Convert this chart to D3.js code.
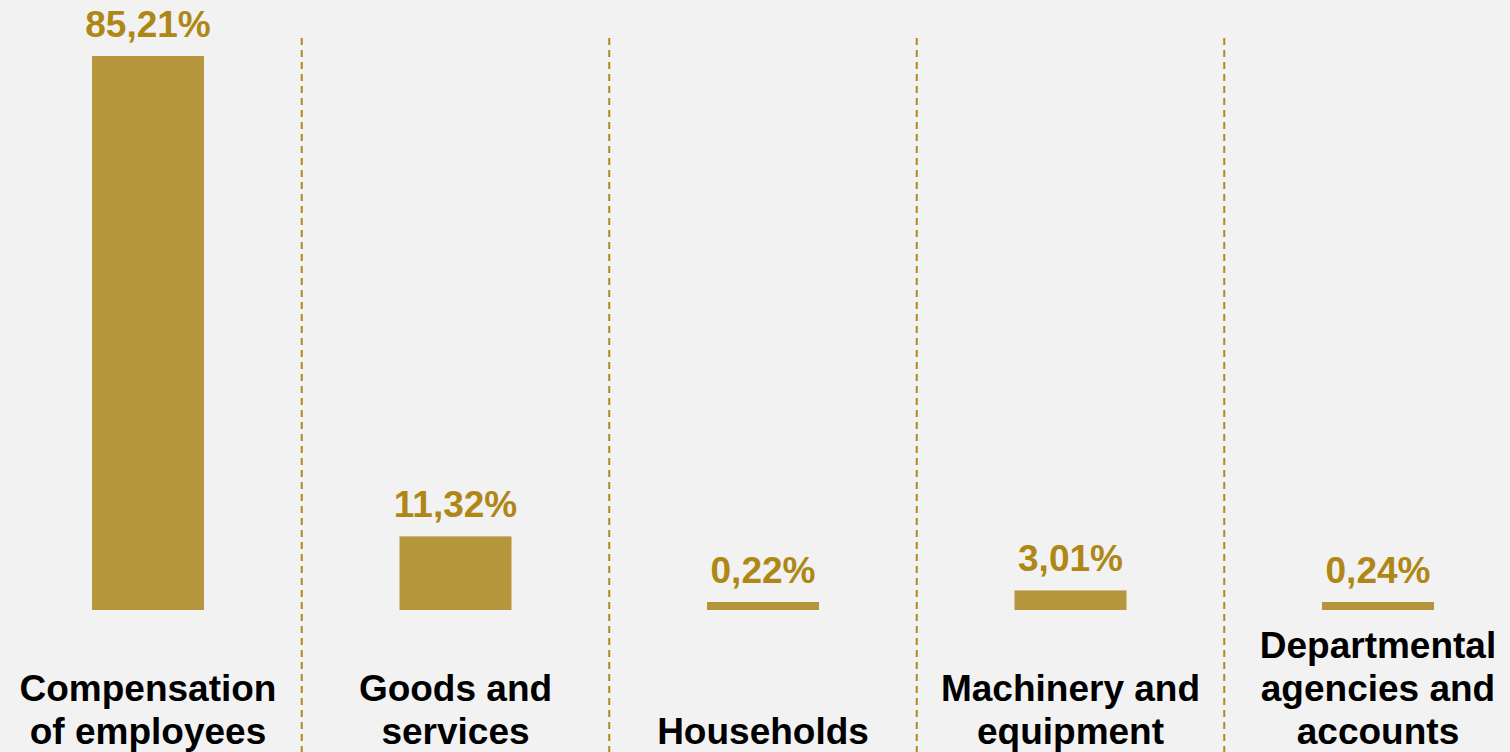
<!DOCTYPE html>
<html>
<head>
<meta charset="utf-8">
<script src="https://cdn.jsdelivr.net/npm/d3@7"></script>
<style>
  html, body { margin: 0; padding: 0; background: #f2f2f2; }
  svg { display: block; }
</style>
</head>
<body>
<svg id="chart" width="1510" height="752"></svg>
<script>
const categories = [
  ["Compensation", "of employees"],
  ["Goods and", "services"],
  ["Households"],
  ["Machinery and", "equipment"],
  ["Departmental", "agencies and", "accounts"]
];
const values = [85.21, 11.32, 0.22, 3.01, 0.24];
const valueLabels = ["85,21%", "11,32%", "0,22%", "3,01%", "0,24%"];

const W = 1510, H = 752;
const barW = 112, baseY = 610, topY = 56, minBarH = 8;
const font = "'Liberation Sans', Arial, sans-serif";

const svg = d3.select("#chart");
svg.append("rect").attr("width", W).attr("height", H).attr("fill", "#f2f2f2");

const idx = d3.range(values.length);
const x = d3.scalePoint().domain(idx).range([148, 1378]);
const y = d3.scaleLinear().domain([0, d3.max(values)]).range([baseY, topY]);
const barTop = v => Math.min(y(v), baseY - minBarH);

// dashed dividers between columns
const dividers = idx.slice(0, -1).map(i => (x(i) + x(i + 1)) / 2);
svg.selectAll("line.div").data(dividers).join("line")
  .attr("class", "div")
  .attr("x1", d => d).attr("x2", d => d)
  .attr("y1", 38).attr("y2", H)
  .attr("stroke", "#b08a1e")
  .attr("stroke-width", 2)
  .attr("stroke-dasharray", "7,5");

// bars
svg.selectAll("rect.bar").data(idx).join("rect")
  .attr("class", "bar")
  .attr("x", i => x(i) - barW / 2)
  .attr("width", barW)
  .attr("y", i => barTop(values[i]))
  .attr("height", i => baseY - barTop(values[i]))
  .attr("fill", "#b5963c");

// value labels
svg.selectAll("text.val").data(idx).join("text")
  .attr("class", "val")
  .attr("x", i => x(i))
  .attr("y", i => barTop(values[i]) - 19)
  .attr("text-anchor", "middle")
  .attr("font-family", font)
  .attr("font-weight", "bold")
  .attr("font-size", 37)
  .attr("fill", "#af8716")
  .text(i => valueLabels[i]);

// category labels (bottom aligned)
const lineH = 43, lastBase = 744;
const cat = svg.selectAll("text.cat").data(idx).join("text")
  .attr("class", "cat")
  .attr("text-anchor", "middle")
  .attr("font-family", font)
  .attr("font-weight", "bold")
  .attr("font-size", 37)
  .attr("fill", "#000");
cat.each(function(i) {
  const lines = categories[i];
  d3.select(this).selectAll("tspan").data(lines).join("tspan")
    .attr("x", x(i))
    .attr("y", (d, k) => lastBase - (lines.length - 1 - k) * lineH)
    .text(d => d);
});
</script>
</body>
</html>
